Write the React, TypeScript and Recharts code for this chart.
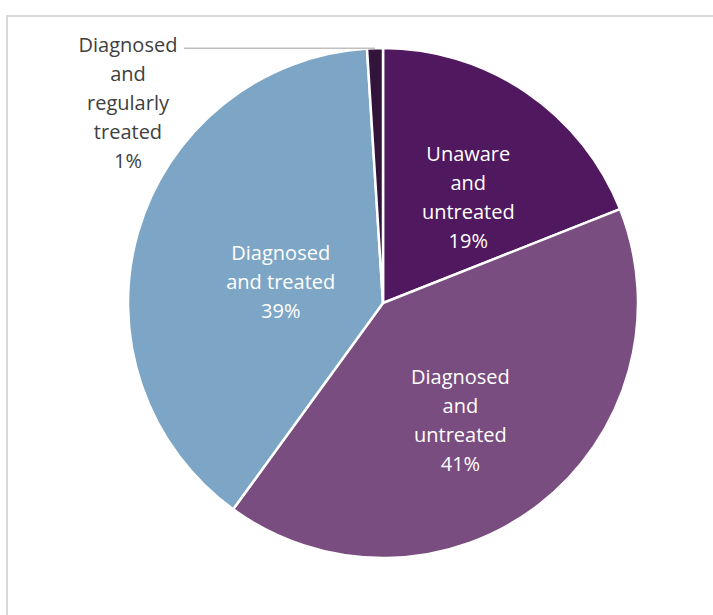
import { PieChart, Pie, Cell } from "recharts";

const categories = [
  "Unaware and untreated",
  "Diagnosed and untreated",
  "Diagnosed and treated",
  "Diagnosed and regularly treated",
];
const shares = [19, 41, 39, 1];
const labelLines = [
  ["Unaware", "and", "untreated"],
  ["Diagnosed", "and", "untreated"],
  ["Diagnosed", "and treated"],
  ["Diagnosed", "and", "regularly", "treated"],
];
const colors = ["#50185E", "#7A4D80", "#7DA6C6", "#32133A"];

const data = categories.map((name, i) => ({ name, value: shares[i] }));

// label placement: radius fraction, angle shift (deg, clockwise)
const LABEL_POS = [
  [0.535, 4.5],
  [0.55, 4.3],
  [0.41, -4.2],
];
const LINE_H = 29;
const FONT = "'Open Sans', sans-serif";
const RAD = Math.PI / 180;

const renderLabel = (props: any) => {
  const { cx, cy, midAngle, outerRadius, index, value } = props;
  const lines = [...labelLines[index], `${value}%`];

  if (index === 3) {
    // outside label with horizontal leader
    const ex = cx + outerRadius * Math.cos(-midAngle * RAD);
    const ey = cy + outerRadius * Math.sin(-midAngle * RAD);
    const tx = ex - 247;
    return (
      <g>
        <line x1={ex} y1={ey} x2={ex - 191} y2={ey} stroke="#BFBFBF" strokeWidth={1.5} />
        {lines.map((t, i) => (
          <text key={i} x={tx} y={ey - 4 + i * LINE_H} textAnchor="middle" dominantBaseline="central"
            fill="#404040" fontSize={20} fontFamily={FONT}>
            {t}
          </text>
        ))}
      </g>
    );
  }

  const [frac, shift] = LABEL_POS[index];
  const a = (midAngle - shift) * RAD;
  const x = cx + outerRadius * frac * Math.cos(a);
  const y = cy - outerRadius * frac * Math.sin(a);
  const top = y - ((lines.length - 1) / 2) * LINE_H;
  return (
    <g>
      {lines.map((t, i) => (
        <text key={i} x={x} y={top + i * LINE_H} textAnchor="middle" dominantBaseline="central"
          fill="#FFFFFF" fontSize={20} fontFamily={FONT}>
          {t}
        </text>
      ))}
    </g>
  );
};

export default function App() {
  return (
    <div style={{ position: "fixed", left: 0, top: 0, width: 713, height: 615, background: "#fff", overflow: "hidden" }}>
      <div style={{ position: "absolute", left: 6, top: 15, width: 760, height: 660, border: "2px solid #D9D9D9" }} />
      <div style={{ position: "absolute", left: 0, top: 0 }}>
        <PieChart width={713} height={615} margin={{ top: 0, right: 0, bottom: 0, left: 0 }}>
          <Pie
            data={data}
            dataKey="value"
            nameKey="name"
            cx={383}
            cy={303}
            outerRadius={255}
            startAngle={90}
            endAngle={-270}
            stroke="#FFFFFF"
            strokeWidth={2.5}
            label={renderLabel}
            labelLine={false}
            isAnimationActive={false}
          >
            {data.map((d, i) => (
              <Cell key={d.name} fill={colors[i]} />
            ))}
          </Pie>
        </PieChart>
      </div>
    </div>
  );
}
